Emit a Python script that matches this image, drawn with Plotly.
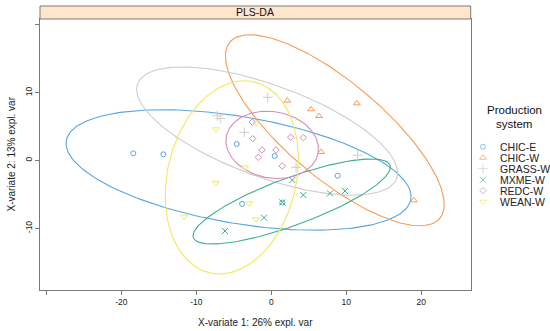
import numpy as np
import plotly.graph_objects as go

# ---------------- data ----------------
groups = ["CHIC-E", "CHIC-W", "GRASS-W", "MXME-W", "REDC-W", "WEAN-W"]
colors = ["#5BA6E0", "#F89A55", "#CDCDCD", "#3DB08A", "#D68DB8", "#F2E85A"]
symbols = ["circle-open", "triangle-up-open", "cross-thin-open",
           "x-thin-open", "diamond-open", "triangle-down-open"]
msizes = [5, 6, 7, 6, 5, 6]

chic_e_x = [-18.4, -14.4, -4.6, 0.45, -3.9, 1.47, 8.85]
chic_e_y = [1.06, 0.91, 2.43, 0.66, -6.4, -6.2, -2.24]
chic_w_x = [2.13, 5.3, 6.36, 6.63, 11.4, 19.0]
chic_w_y = [8.82, 7.55, 6.56, 1.25, 8.43, -5.87]
grass_w_x = [-0.48, -7.2, -6.8, -3.6, 3.3, 11.5]
grass_w_y = [9.32, 6.6, 6.2, 4.16, -1.0, 0.77]
mxme_w_x = [2.8, 4.27, 7.83, 9.83, 1.47, -0.97, -6.17]
mxme_w_y = [-2.88, -5.09, -4.84, -4.5, -6.17, -8.43, -10.4]
redc_w_x = [-2.53, -2.48, -1.24, -1.73, 0.63, 2.59, 4.27, 1.47]
redc_w_y = [5.68, 3.22, 1.55, 0.47, 1.55, 3.42, 3.37, -0.81]
wean_w_x = [-1.95, -7.37, -3.5, -7.41, -2.97, -2.04, -11.6]
wean_w_y = [5.49, 4.6, -1.0, -3.27, -6.32, -8.67, -8.28]

xs = [chic_e_x, chic_w_x, grass_w_x, mxme_w_x, redc_w_x, wean_w_x]
ys = [chic_e_y, chic_w_y, grass_w_y, mxme_w_y, redc_w_y, wean_w_y]

x_tickvals = [-30, -20, -10, 0, 10, 20]
x_ticktext = ["", "-20", "-10", "0", "10", "20"]
y_tickvals = [-10, 0, 10, 20]
y_ticktext = ["-10", "0", "10", ""]

ellipse_level = 0.95
# --------------------------------------

FONT = "Liberation Sans, Arial, sans-serif"
GREY = "#7a7a7a"
W, H = 550, 331
ML, MR, MT, MB = 40, 5, 19, 41
PW = W - ML - MR
PH = H - MT - MB
panel_right = 470.7
xdom = (panel_right - ML) / PW


def conf_ellipse(x, y, level=0.95, n=200):
    x = np.asarray(x, float)
    y = np.asarray(y, float)
    cov = np.cov(x, y)
    t = np.sqrt(-2.0 * np.log(1.0 - level))  # sqrt(qchisq(level, 2))
    sx, sy = np.sqrt(cov[0, 0]), np.sqrt(cov[1, 1])
    r = np.clip(cov[0, 1] / (sx * sy), -1, 1)
    d = np.arccos(r)
    a = np.linspace(0, 2 * np.pi, n)
    ex = t * sx * np.cos(a + d / 2) + x.mean()
    ey = t * sy * np.cos(a - d / 2) + y.mean()
    return ex, ey


fig = go.Figure()

for g, c, xx, yy in zip(groups, colors, xs, ys):
    ex, ey = conf_ellipse(xx, yy, ellipse_level)
    fig.add_trace(go.Scatter(x=ex, y=ey, mode="lines",
                             line=dict(color=c, width=1.1),
                             hoverinfo="skip", showlegend=False))

for g, c, s, ms, xx, yy in zip(groups, colors, symbols, msizes, xs, ys):
    fig.add_trace(go.Scatter(x=xx, y=yy, mode="markers", name=g,
                             marker=dict(symbol=s, size=ms, color=c,
                                         line=dict(color=c, width=1)),
                             showlegend=False))

# legend keys drawn on a hidden helper axis
idx = list(range(len(groups)))
fig.add_trace(go.Scatter(x=[0] * len(groups), y=idx, mode="markers",
                         xaxis="x2", yaxis="y2", showlegend=False,
                         hoverinfo="skip",
                         marker=dict(symbol=symbols, size=msizes, color=colors,
                                     line=dict(color=colors, width=1))))

ann = []
for i, g in enumerate(groups):
    ann.append(dict(x=(498 - ML) / PW, xref="paper", y=i, yref="y2",
                    text=g, showarrow=False, xanchor="left", yanchor="middle",
                    font=dict(family=FONT, size=10.5, color="#222")))
ann.append(dict(x=(514 - ML) / PW, xref="paper", y=(MT + PH - 110) / PH, yref="paper",
                text="Production", showarrow=False, xanchor="center", yanchor="middle",
                font=dict(family=FONT, size=11.5, color="#111")))
ann.append(dict(x=(514 - ML) / PW, xref="paper", y=(MT + PH - 124) / PH, yref="paper",
                text="system", showarrow=False, xanchor="center", yanchor="middle",
                font=dict(family=FONT, size=11.5, color="#111")))
# strip label
strip_h = 13 / PH
ann.append(dict(x=0.5, xref="x domain", y=1 + strip_h / 2, yref="y domain",
                text="PLS-DA", showarrow=False, xanchor="center", yanchor="middle",
                font=dict(family=FONT, size=10.5, color="#111")))
# axis titles
ann.append(dict(x=0.5, xref="x domain", y=(MT + PH - 322) / PH, yref="paper",
                text="X-variate 1: 26% expl. var", showarrow=False,
                xanchor="center", yanchor="middle",
                font=dict(family=FONT, size=10, color="#222")))
ann.append(dict(x=(11 - ML) / PW, xref="paper", y=0.5, yref="y domain",
                text="X-variate 2: 13% expl. var", showarrow=False, textangle=-90,
                xanchor="center", yanchor="middle",
                font=dict(family=FONT, size=10, color="#222")))

shapes = [dict(type="rect", xref="x domain", yref="y domain",
               x0=0, x1=1, y0=1, y1=1 + strip_h,
               fillcolor="#FFE5CC", line=dict(color=GREY, width=1), layer="above")]

# helper axis ranges for legend rows
leg_x0 = (483 - (ML + 0.86 * PW)) / (0.14 * PW)
row0, row_step = 146.7, 11.0
y2_bottom = (MT + PH - row0) / row_step
y2_top = (MT - row0) / row_step

fig.update_layout(
    width=W, height=H,
    margin=dict(l=ML, r=MR, t=MT, b=MB),
    paper_bgcolor="white", plot_bgcolor="white",
    font=dict(family=FONT, size=9, color="#222"),
    xaxis=dict(domain=[0, xdom], range=[-30.84, 26.59],
               tickvals=x_tickvals, ticktext=x_ticktext,
               ticks="outside", ticklen=4, tickcolor=GREY, tickwidth=1,
               showline=True, linecolor=GREY, linewidth=1, mirror=True,
               showgrid=False, zeroline=False,
               tickfont=dict(family=FONT, size=8.5, color="#222")),
    yaxis=dict(domain=[0, 1], range=[-19.1, 20.87],
               tickvals=y_tickvals, ticktext=y_ticktext, tickangle=-90,
               ticks="outside", ticklen=4, tickcolor=GREY, tickwidth=1,
               showline=True, linecolor=GREY, linewidth=1, mirror=True,
               showgrid=False, zeroline=False,
               tickfont=dict(family=FONT, size=8.5, color="#222")),
    xaxis2=dict(domain=[0.86, 1], range=[-leg_x0, 1 - leg_x0], visible=False,
                anchor="y2", fixedrange=True),
    yaxis2=dict(domain=[0, 1], range=[y2_bottom, y2_top], visible=False,
                anchor="x2", fixedrange=True),
    annotations=ann,
    shapes=shapes,
    showlegend=False,
)

fig.write_html("out.html", config={"displayModeBar": False},
               post_script="document.body.style.margin='0';"
                           "document.body.style.padding='0';")
